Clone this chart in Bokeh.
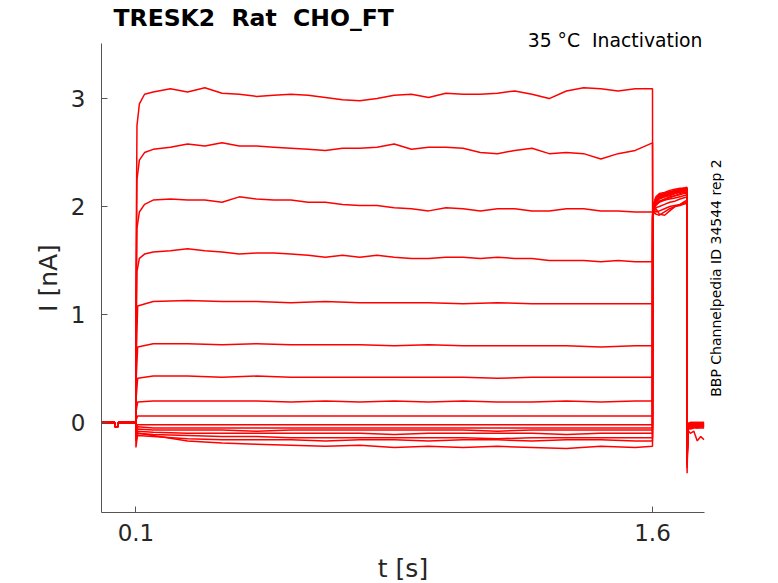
import math
from bokeh.plotting import figure
from bokeh.models import Range1d, FixedTicker, ColumnDataSource, Title, Label
from bokeh.layouts import row
from bokeh.embed import file_html
from bokeh.resources import INLINE

# ---------------- data ----------------
X_TICKS = [0.1, 1.6]
Y_TICKS = [0, 1, 2, 3]

# holding period before the prepulse (shared by all sweeps)
T_PRE = [0.0, 0.039, 0.040, 0.047, 0.048, 0.0999]
I_PRE = [0.0, 0.0, -0.04, -0.04, 0.0, 0.0]

# prepulse, fine time grid (large sweeps)
T_STEP_A = [0.100, 0.103, 0.110, 0.125, 0.15, 0.20, 0.25, 0.30, 0.35, 0.40,
            0.45, 0.50, 0.55, 0.60, 0.65, 0.70, 0.75, 0.80, 0.85, 0.90,
            0.95, 1.00, 1.05, 1.10, 1.15, 1.20, 1.25, 1.30, 1.35, 1.40,
            1.45, 1.50, 1.55, 1.60]
I_STEP_1 = [1.20, 2.75, 2.95, 3.04, 3.06, 3.09, 3.06, 3.10, 3.05, 3.04,
            3.02, 3.03, 3.04, 3.03, 3.01, 2.99, 2.98, 3.00, 3.03, 3.04,
            3.01, 3.05, 3.04, 3.04, 3.05, 3.07, 3.04, 3.00, 3.07, 3.10,
            3.09, 3.07, 3.09, 3.09]
I_STEP_2 = [1.00, 2.25, 2.43, 2.50, 2.53, 2.55, 2.58, 2.56, 2.59, 2.56,
            2.56, 2.55, 2.54, 2.53, 2.52, 2.54, 2.54, 2.55, 2.58, 2.53,
            2.55, 2.55, 2.54, 2.50, 2.49, 2.52, 2.54, 2.49, 2.50, 2.49,
            2.44, 2.49, 2.52, 2.59]
I_STEP_3 = [0.80, 1.80, 1.95, 2.02, 2.06, 2.07, 2.06, 2.06, 2.04, 2.09,
            2.07, 2.06, 2.06, 2.04, 2.04, 2.02, 2.01, 2.01, 1.99, 1.98,
            1.96, 1.99, 1.98, 1.96, 1.98, 1.98, 1.96, 1.96, 1.98, 1.98,
            1.96, 1.96, 1.95, 1.95]
I_STEP_4 = [0.60, 1.40, 1.52, 1.56, 1.58, 1.59, 1.61, 1.59, 1.58, 1.56,
            1.57, 1.57, 1.56, 1.55, 1.53, 1.55, 1.53, 1.55, 1.53, 1.52,
            1.52, 1.53, 1.53, 1.52, 1.53, 1.52, 1.52, 1.50, 1.50, 1.50,
            1.49, 1.50, 1.49, 1.49]

# prepulse, coarse time grid (small sweeps)
T_STEP_B = [0.100, 0.105, 0.15, 0.25, 0.35, 0.45, 0.55, 0.65, 0.75, 0.85,
            0.95, 1.05, 1.15, 1.25, 1.35, 1.45, 1.55, 1.60]
I_STEP_5 = [0.50, 1.08, 1.12, 1.13, 1.12, 1.12, 1.11, 1.12, 1.11, 1.11,
            1.11, 1.10, 1.11, 1.10, 1.10, 1.10, 1.10, 1.10]
I_STEP_6 = [0.35, 0.70, 0.73, 0.73, 0.72, 0.73, 0.72, 0.72, 0.72, 0.71,
            0.72, 0.71, 0.71, 0.71, 0.71, 0.70, 0.71, 0.71]
I_STEP_7 = [0.20, 0.41, 0.43, 0.43, 0.42, 0.43, 0.42, 0.42, 0.42, 0.42,
            0.42, 0.42, 0.41, 0.42, 0.42, 0.42, 0.42, 0.42]
I_STEP_8 = [0.10, 0.19, 0.20, 0.20, 0.20, 0.20, 0.19, 0.20, 0.19, 0.20,
            0.19, 0.20, 0.19, 0.19, 0.20, 0.19, 0.20, 0.20]
I_STEP_9 = [0.02, 0.06, 0.06, 0.06, 0.06, 0.06, 0.06, 0.06, 0.06, 0.06,
            0.06, 0.06, 0.06, 0.06, 0.06, 0.06, 0.06, 0.06]
I_STEP_10 = [-0.05, -0.02, -0.02, -0.02, -0.02, -0.02, -0.02, -0.02, -0.02, -0.02,
             -0.02, -0.02, -0.02, -0.02, -0.02, -0.02, -0.02, -0.02]
I_STEP_11 = [-0.08, -0.04, -0.05, -0.05, -0.05, -0.05, -0.05, -0.05, -0.05, -0.05,
             -0.05, -0.05, -0.05, -0.05, -0.05, -0.05, -0.05, -0.05]
I_STEP_12 = [-0.10, -0.06, -0.07, -0.07, -0.07, -0.08, -0.07, -0.07, -0.07, -0.07,
             -0.07, -0.07, -0.08, -0.07, -0.07, -0.07, -0.07, -0.07]
I_STEP_13 = [-0.14, -0.08, -0.09, -0.10, -0.10, -0.10, -0.10, -0.10, -0.10, -0.11,
             -0.10, -0.10, -0.10, -0.10, -0.11, -0.10, -0.10, -0.10]
I_STEP_14 = [-0.12, -0.10, -0.11, -0.12, -0.13, -0.13, -0.14, -0.14, -0.14, -0.14,
             -0.14, -0.14, -0.15, -0.14, -0.14, -0.14, -0.14, -0.14]
I_STEP_15 = [-0.17, -0.12, -0.13, -0.15, -0.16, -0.16, -0.16, -0.17, -0.16, -0.16,
             -0.17, -0.16, -0.16, -0.17, -0.16, -0.16, -0.17, -0.17]
I_STEP_16 = [-0.23, -0.10, -0.12, -0.17, -0.19, -0.20, -0.21, -0.22, -0.21, -0.23,
             -0.22, -0.23, -0.22, -0.23, -0.24, -0.22, -0.23, -0.22]

# test pulse
T_TEST = [1.6005, 1.604, 1.61, 1.62, 1.635, 1.65, 1.665, 1.68, 1.69, 1.70]
I_TEST_1 = [1.90, 2.02, 2.08, 2.10, 2.12, 2.13, 2.14, 2.15, 2.16, 2.16]
I_TEST_2 = [1.92, 2.00, 2.05, 2.08, 2.09, 2.11, 2.12, 2.14, 2.15, 2.15]
I_TEST_3 = [1.95, 1.98, 2.02, 2.05, 2.07, 2.09, 2.10, 2.12, 2.13, 2.14]
I_TEST_4 = [1.88, 1.96, 1.98, 1.93, 1.92, 1.96, 2.00, 2.02, 2.03, 2.04]
I_TEST_5 = [1.90, 2.03, 2.09, 2.12, 2.13, 2.15, 2.16, 2.17, 2.17, 2.18]
I_TEST_6 = [1.90, 2.02, 2.07, 2.10, 2.11, 2.13, 2.15, 2.16, 2.16, 2.17]
I_TEST_7 = [1.92, 2.00, 2.06, 2.09, 2.11, 2.12, 2.13, 2.15, 2.15, 2.16]
I_TEST_8 = [1.93, 1.99, 2.03, 2.05, 2.06, 2.08, 2.10, 2.11, 2.12, 2.13]
I_TEST_9 = [1.94, 1.97, 1.99, 2.00, 2.02, 2.04, 2.05, 2.07, 2.08, 2.09]
I_TEST_10 = [1.92, 2.01, 2.06, 2.09, 2.10, 2.12, 2.14, 2.15, 2.16, 2.17]
I_TEST_11 = [1.91, 1.99, 2.04, 2.07, 2.09, 2.10, 2.12, 2.13, 2.14, 2.15]
I_TEST_12 = [1.93, 1.97, 1.95, 1.96, 1.98, 2.00, 2.01, 2.02, 2.04, 2.06]
I_TEST_13 = [1.90, 2.03, 2.08, 2.11, 2.12, 2.14, 2.15, 2.16, 2.17, 2.17]
I_TEST_14 = [1.92, 1.98, 2.01, 2.04, 2.06, 2.07, 2.08, 2.09, 2.10, 2.11]
I_TEST_15 = [1.91, 2.00, 2.05, 2.08, 2.10, 2.12, 2.13, 2.14, 2.15, 2.16]
I_TEST_16 = [1.90, 1.95, 1.93, 1.92, 1.95, 1.98, 2.00, 2.01, 2.02, 2.03]

# tail after the test pulse
T_POST = [1.7005, 1.703, 1.71, 1.72, 1.73, 1.74, 1.75]
I_POST_1 = [-0.47, -0.02, -0.01, -0.01, -0.01, -0.01, -0.01]
I_POST_2 = [-0.40, -0.03, -0.02, -0.02, -0.02, -0.02, -0.02]
I_POST_3 = [-0.35, -0.04, -0.03, -0.03, -0.03, -0.03, -0.03]
I_POST_4 = [-0.30, -0.06, -0.05, -0.04, -0.05, -0.04, -0.04]
I_POST_5 = [-0.42, -0.01, 0.00, 0.00, 0.00, 0.00, 0.00]
I_POST_6 = [-0.38, -0.02, -0.01, -0.01, -0.01, -0.01, -0.01]
I_POST_7 = [-0.33, -0.03, -0.02, -0.02, -0.02, -0.02, -0.02]
I_POST_8 = [-0.30, -0.04, -0.03, -0.03, -0.03, -0.03, -0.03]
I_POST_9 = [-0.28, -0.05, -0.04, -0.04, -0.04, -0.04, -0.04]
I_POST_10 = [-0.36, -0.02, -0.01, -0.01, -0.01, -0.01, -0.01]
I_POST_11 = [-0.32, -0.03, -0.02, -0.02, -0.02, -0.02, -0.02]
I_POST_12 = [-0.27, -0.05, -0.06, -0.05, -0.05, -0.05, -0.05]
I_POST_13 = [-0.34, -0.01, 0.00, 0.00, 0.00, 0.00, 0.00]
I_POST_14 = [-0.29, -0.04, -0.04, -0.03, -0.04, -0.03, -0.04]
I_POST_15 = [-0.31, -0.03, -0.03, -0.02, -0.03, -0.02, -0.03]
I_POST_16 = [-0.26, -0.07, -0.10, -0.08, -0.17, -0.13, -0.16]

STEPS_A = [I_STEP_1, I_STEP_2, I_STEP_3, I_STEP_4]
STEPS_B = [I_STEP_5, I_STEP_6, I_STEP_7, I_STEP_8, I_STEP_9, I_STEP_10,
           I_STEP_11, I_STEP_12, I_STEP_13, I_STEP_14, I_STEP_15, I_STEP_16]
TESTS = [I_TEST_1, I_TEST_2, I_TEST_3, I_TEST_4, I_TEST_5, I_TEST_6, I_TEST_7,
         I_TEST_8, I_TEST_9, I_TEST_10, I_TEST_11, I_TEST_12, I_TEST_13,
         I_TEST_14, I_TEST_15, I_TEST_16]
POSTS = [I_POST_1, I_POST_2, I_POST_3, I_POST_4, I_POST_5, I_POST_6, I_POST_7,
         I_POST_8, I_POST_9, I_POST_10, I_POST_11, I_POST_12, I_POST_13,
         I_POST_14, I_POST_15, I_POST_16]

# double spaces kept visible in SVG with a no-break space
TITLE = "TRESK2\u00a0 Rat\u00a0 CHO_FT"
SUBTITLE = "35 \u00b0C\u00a0 Inactivation"
SIDE_NOTE = "BBP Channelpedia ID 34544 rep 2"

# ---------------- build sweeps ----------------
xs, ys = [], []
steps = [(T_STEP_A, s) for s in STEPS_A] + [(T_STEP_B, s) for s in STEPS_B]
for (t_step, i_step), i_test, i_post in zip(steps, TESTS, POSTS):
    xs.append(T_PRE + t_step + T_TEST + T_POST)
    ys.append(I_PRE + i_step + i_test + i_post)

src = ColumnDataSource(dict(xs=xs, ys=ys))

FONT = "DejaVu Sans"
TXT = "#262626"
AX = "#555555"
Y_RANGE = (-0.833, 3.51)

p = figure(frame_width=603, frame_height=469, title=None,
           x_range=Range1d(0.0, 1.751), y_range=Range1d(*Y_RANGE),
           output_backend="svg", toolbar_location=None,
           min_border_left=101, min_border_right=5,
           min_border_top=43, min_border_bottom=70)
p.outline_line_color = None
p.xgrid.visible = False
p.ygrid.visible = False
p.background_fill_color = "white"
p.border_fill_color = "white"

p.multi_line(xs="xs", ys="ys", source=src, line_color="#ff0000", line_width=1.5)

for ax in (p.xaxis[0], p.yaxis[0]):
    ax.axis_line_color = AX
    ax.axis_line_width = 1
    ax.major_tick_line_color = AX
    ax.major_tick_in = 6
    ax.major_tick_out = 0
    ax.minor_tick_line_color = None
    ax.major_label_text_font = FONT
    ax.major_label_text_font_size = "23px"
    ax.major_label_text_color = TXT
    ax.axis_label_text_font = FONT
    ax.axis_label_text_font_size = "25px"
    ax.axis_label_text_font_style = "normal"
    ax.axis_label_text_color = TXT

p.xaxis.ticker = FixedTicker(ticks=X_TICKS)
p.yaxis.ticker = FixedTicker(ticks=Y_TICKS)
p.xaxis.axis_label = "t [s]"
p.yaxis.axis_label = "I [nA]"
p.xaxis.major_label_standoff = 11
p.yaxis.major_label_standoff = 16
p.xaxis.axis_label_standoff = 10
p.yaxis.axis_label_standoff = 5

# titles (subtitle closest to the frame, main title above it)
sub = Title(text=SUBTITLE, align="right", offset=2, text_font=FONT,
            text_font_size="18.8px", text_font_style="normal",
            text_color="black", vertical_align="middle", standoff=-16)
p.add_layout(sub, "above")
main = Title(text=TITLE, align="left", offset=12, text_font=FONT,
             text_font_size="23.5px", text_font_style="bold",
             text_color="black", vertical_align="top", standoff=6)
p.add_layout(main, "above")

# narrow strip on the right carrying the vertical side note
q = figure(frame_width=30, frame_height=469, title=None,
           x_range=Range1d(0, 30), y_range=Range1d(*Y_RANGE),
           x_axis_type=None, y_axis_type=None,
           output_backend="svg", toolbar_location=None,
           min_border_left=0, min_border_right=0,
           min_border_top=43, min_border_bottom=70)
q.outline_line_color = None
q.background_fill_color = "white"
q.border_fill_color = "white"
q.add_layout(Label(x=6.5, y=(Y_RANGE[0] + Y_RANGE[1]) / 2, text=SIDE_NOTE,
                   text_font=FONT, text_font_size="14px", text_color="black",
                   angle=math.pi / 2, text_align="center",
                   text_baseline="middle"))

layout = row(p, q)
open("out.html", "w").write(file_html(layout, INLINE))
